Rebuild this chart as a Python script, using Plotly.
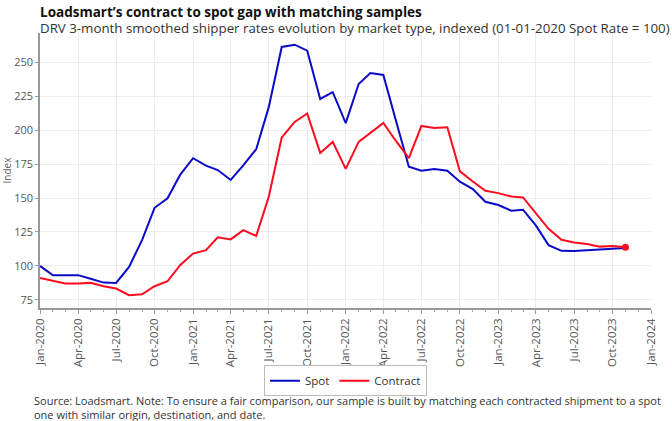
import plotly.graph_objects as go
import pandas as pd

dates = pd.date_range("2020-01-01", "2023-11-01", freq="MS")

spot = [100, 93.1, 93.2, 93.2, 90.5, 87.7, 87.5, 99.3, 119, 142.8, 149.8, 167,
        179.3, 173.8, 170.6, 163.3, 174, 185.9, 216.9, 261.2, 262.9, 258.5, 222.9, 228,
        205.1, 233.9, 242, 240.6, 207, 173, 170.1, 171.3, 170.1, 162, 156.6, 147.2,
        144.8, 140.6, 141.4, 129.6, 115.3, 111.1, 110.9, 111.3, 112, 112.6, 113.2]

contract = [91.1, 88.7, 87, 87, 87.5, 85, 83.3, 78.4, 79.1, 85, 88.7, 100.5,
            109.1, 111.6, 121, 119.5, 126.3, 122.1, 150.9, 194.5, 206, 212.2, 183.2, 191.3,
            171.4, 191.3, 198.2, 205.3, 192, 179.3, 203.1, 201.6, 202.1, 169.6, 162.2, 155.3,
            153.6, 151.1, 150.4, 138.9, 127.3, 119.2, 117.2, 116.2, 114.2, 114.7, 113.7]

y_ticks = [75, 100, 125, 150, 175, 200, 225, 250]

SPOT_COLOR = "#0a0ac8"
CONTRACT_COLOR = "#ff0a1e"
FONT = "Open Sans"

title_text = "Loadsmart’s contract to spot gap with matching samples"
subtitle_text = "DRV 3-month smoothed shipper rates evolution by market type, indexed (01-01-2020 Spot Rate = 100)"
source_text = ("Source: Loadsmart. Note: To ensure a fair comparison, our sample is built by matching each contracted shipment to a spot"
               "<br>one with similar origin, destination, and date.")

fig = go.Figure()
fig.add_trace(go.Scatter(x=dates, y=spot, mode="lines", name="Spot",
                         line=dict(color=SPOT_COLOR, width=2)))
fig.add_trace(go.Scatter(x=dates, y=contract, mode="lines", name="Contract",
                         line=dict(color=CONTRACT_COLOR, width=2)))
fig.add_trace(go.Scatter(x=[dates[-1]], y=[contract[-1]], mode="markers",
                         showlegend=False,
                         marker=dict(color=CONTRACT_COLOR, size=7)))

fig.update_layout(
    width=672, height=421,
    margin=dict(l=40, r=21, t=33, b=113),
    paper_bgcolor="white", plot_bgcolor="white",
    font=dict(family=FONT, color="#555555", size=11),
    showlegend=True,
    legend=dict(orientation="h", x=0.5, xanchor="center", y=-0.208, yanchor="top",
                bgcolor="white", bordercolor="#bbbbbb", borderwidth=1,
                font=dict(family=FONT, size=11.5, color="#333333"),
                itemwidth=30, tracegroupgap=0),
)
fig.add_annotation(
    text=(f"<b><span style='font-size:13.5px;color:#111111'>{title_text}</span></b>"
          f"<br><span style='font-size:13.3px;color:#333333'>{subtitle_text}</span>"),
    xref="paper", yref="paper", x=0, y=1, xanchor="left", yanchor="top",
    xshift=-2, yshift=33 - 1, showarrow=False, align="left",
    font=dict(family=FONT, size=12, color="#333333"))
fig.add_annotation(text=source_text,
                   xref="paper", yref="paper", x=0, y=0, xanchor="left", yanchor="top",
                   xshift=-8, yshift=-(391 - 308), showarrow=False, align="left",
                   font=dict(family=FONT, size=11, color="#333333"))

fig.update_xaxes(
    automargin=False,
    range=["2020-01-01", "2024-01-01"],
    tickformat="%b-%Y", dtick="M3", tick0="2020-01-01", tickangle=-90,
    showgrid=True, gridcolor="#ececec", gridwidth=1,
    showline=True, linecolor="#999999", linewidth=1.5,
    ticks="outside", ticklen=4, tickcolor="#999999",
    minor=dict(dtick="M1", ticks="outside", ticklen=2, tickcolor="#aaaaaa", showgrid=False),
    tickfont=dict(size=11.5, color="#555555"),
    zeroline=False,
)
fig.update_yaxes(
    automargin=False,
    range=[69, 271.5], tickvals=y_ticks,
    title=dict(text="Index", font=dict(size=10, color="#666666"), standoff=4),
    showgrid=True, gridcolor="#ececec", gridwidth=1,
    showline=True, linecolor="#999999", linewidth=1.5,
    ticks="outside", ticklen=3, tickcolor="#999999",
    tickfont=dict(size=11, color="#555555"),
    zeroline=False,
)

fig.write_html("out.html", config={"displayModeBar": False},
               post_script="document.body.style.margin='0';")
